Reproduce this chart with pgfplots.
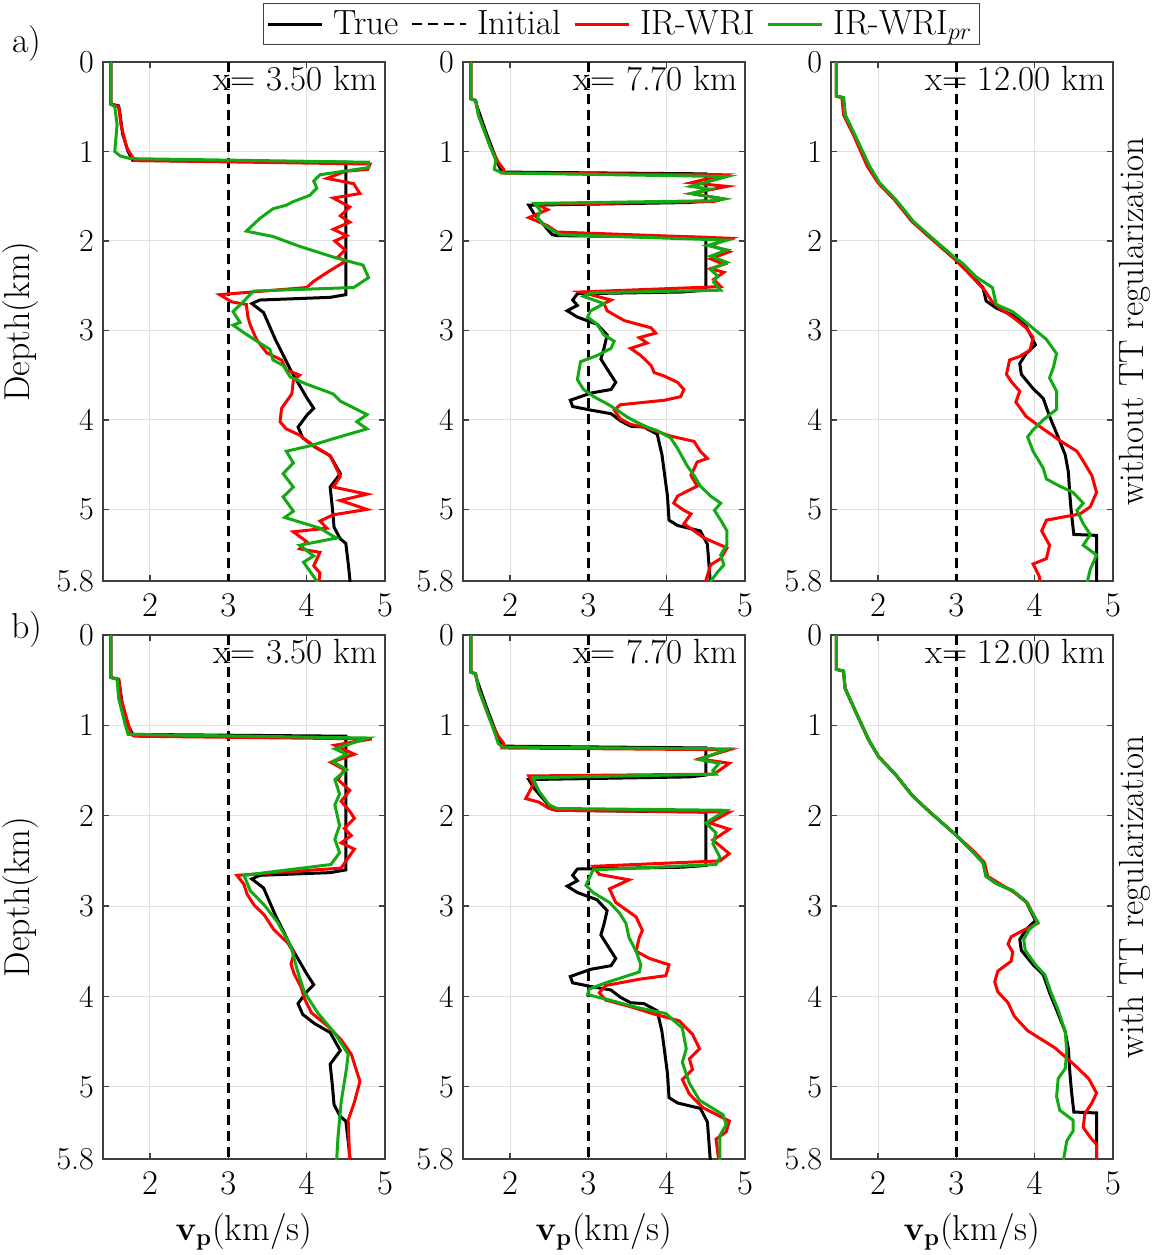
\documentclass[border=0pt]{standalone}
\usepackage{pgfplots}
\pgfplotsset{compat=1.18}
\usepackage{pgfplotstable}

\definecolor{wrired}{RGB}{255,0,0}
\definecolor{wrigreen}{RGB}{18,170,18}
\newcommand\tickfont{\fontsize{16}{19}\selectfont}
\newcommand\txtfont{\fontsize{17.5}{20.5}\selectfont}
\newcommand\labfont{\fontsize{18}{21}\selectfont}

% ---------- true velocity profiles ----------
\pgfplotstableread{
v d
1.5 0
1.5 0.47
1.6 0.49
1.62 0.6
1.65 0.8
1.72 1.0
1.78 1.1
4.5 1.12
4.5 2.6
4.3 2.63
3.4 2.66
3.3 2.7
3.45 2.8
3.6 3.1
3.8 3.45
4.0 3.75
4.09 3.87
4.0 3.95
3.89 4.08
3.95 4.2
4.1 4.3
4.3 4.4
4.43 4.6
4.3 4.75
4.33 5.0
4.35 5.2
4.43 5.33
4.5 5.38
4.53 5.6
4.56 5.85
}\trueA
\pgfplotstableread{
v d
1.5 0
1.5 0.41
1.56 0.43
1.58 0.5
1.7 0.8
1.84 1.12
1.88 1.2
1.9 1.23
4.5 1.25
4.5 1.55
4.3 1.57
2.24 1.60
2.31 1.70
2.43 1.82
2.54 1.93
2.6 1.94
4.5 1.96
4.5 2.55
4.2 2.57
2.86 2.59
2.80 2.66
2.86 2.72
2.73 2.78
2.86 2.85
3.11 2.93
3.24 3.05
3.20 3.20
3.16 3.32
3.24 3.43
3.35 3.58
3.29 3.66
3.03 3.70
2.77 3.78
2.80 3.85
3.03 3.89
3.29 3.93
3.41 4.01
3.54 4.07
3.71 4.08
3.88 4.16
3.94 4.39
4.01 4.85
4.03 5.12
4.14 5.18
4.43 5.24
4.52 5.39
4.56 5.85
}\trueB
\pgfplotstableread{
v d
1.47 0
1.47 0.38
1.56 0.40
1.58 0.59
1.71 0.84
1.88 1.16
2.01 1.35
2.22 1.54
2.44 1.78
2.65 1.95
2.99 2.21
3.21 2.40
3.34 2.52
3.38 2.67
3.51 2.75
3.72 2.83
3.89 2.95
4.01 3.16
3.89 3.26
3.81 3.37
3.83 3.49
3.98 3.65
4.11 3.76
4.19 3.96
4.28 4.15
4.39 4.39
4.43 4.58
4.45 4.85
4.47 5.05
4.50 5.28
4.79 5.29
4.79 5.85
}\trueC

% ---------- without TT regularization ----------
\pgfplotstableread{
v d
1.5 0
1.5 0.47
1.6 0.5
1.63 0.7
1.7 0.95
1.8 1.1
4.81 1.14
4.78 1.2
4.5 1.22
4.26 1.3
4.6 1.36
4.68 1.47
4.34 1.52
4.55 1.62
4.43 1.72
4.55 1.79
4.34 1.87
4.51 1.94
4.36 2.0
4.49 2.1
4.4 2.18
4.49 2.23
4.3 2.33
4.09 2.45
4.0 2.52
2.89 2.6
3.04 2.68
3.23 2.71
3.25 2.85
3.28 2.94
3.36 3.10
3.49 3.25
3.68 3.33
3.74 3.44
3.91 3.50
3.83 3.56
3.81 3.71
3.68 3.87
3.66 4.02
3.74 4.10
3.91 4.17
4.09 4.29
4.30 4.40
4.43 4.63
4.34 4.75
4.77 4.83
4.43 4.90
4.77 5.0
4.34 5.06
4.17 5.13
4.26 5.21
3.83 5.25
4.0 5.36
3.91 5.44
4.17 5.48
4.09 5.63
4.17 5.71
4.15 5.85
}\redAa
\pgfplotstableread{
v d
1.5 0
1.5 0.47
1.55 0.5
1.58 0.7
1.55 1.0
1.62 1.05
1.75 1.08
4.79 1.12
4.79 1.18
4.17 1.26
4.09 1.33
4.13 1.41
4.04 1.49
3.83 1.56
3.74 1.60
3.57 1.64
3.40 1.75
3.23 1.89
3.57 1.95
3.91 2.06
4.34 2.18
4.72 2.27
4.79 2.41
4.60 2.52
3.32 2.56
3.19 2.68
3.06 2.79
3.15 2.91
3.06 2.94
3.19 3.02
3.40 3.14
3.53 3.21
3.57 3.33
3.70 3.39
3.79 3.52
4.0 3.60
4.34 3.71
4.43 3.79
4.77 3.94
4.64 4.02
4.77 4.10
4.34 4.21
4.04 4.29
3.74 4.35
3.83 4.48
3.70 4.60
3.83 4.75
3.70 4.86
3.83 5.02
3.72 5.09
4.17 5.21
4.38 5.32
3.91 5.40
4.09 5.52
3.96 5.59
4.17 5.85
}\greenAa
\pgfplotstableread{
v d
1.5 0
1.5 0.41
1.56 0.43
1.6 0.6
1.75 0.95
1.85 1.12
1.92 1.2
1.9 1.24
4.73 1.26
4.31 1.35
4.77 1.39
4.31 1.47
4.73 1.53
4.6 1.56
2.35 1.59
2.48 1.65
2.24 1.74
2.35 1.78
2.48 1.83
2.60 1.90
4.82 1.97
4.56 2.05
4.80 2.12
4.56 2.20
4.73 2.26
4.56 2.31
4.73 2.35
4.6 2.43
4.69 2.51
2.90 2.57
3.29 2.66
3.20 2.70
3.24 2.78
3.46 2.89
3.80 2.97
3.86 3.03
3.65 3.08
3.75 3.14
3.54 3.20
3.67 3.28
3.80 3.39
3.84 3.47
3.97 3.51
4.14 3.58
4.22 3.66
4.18 3.74
3.97 3.78
3.41 3.83
3.33 3.89
3.41 3.99
3.54 4.05
3.71 4.08
4.05 4.18
4.35 4.24
4.43 4.35
4.52 4.43
4.39 4.47
4.31 4.62
4.39 4.74
4.14 4.85
4.09 4.93
4.22 5.01
4.31 5.05
4.22 5.16
4.35 5.24
4.48 5.32
4.77 5.43
4.69 5.55
4.56 5.62
4.52 5.74
4.48 5.85
}\redAb
\pgfplotstableread{
v d
1.5 0
1.5 0.41
1.56 0.43
1.6 0.6
1.75 0.95
1.82 1.1
1.80 1.2
1.9 1.24
4.77 1.28
4.31 1.39
4.55 1.42
4.31 1.47
4.73 1.53
4.6 1.55
2.31 1.58
2.39 1.66
2.35 1.74
2.43 1.82
2.56 1.89
2.65 1.93
4.77 1.99
4.52 2.05
4.77 2.10
4.56 2.17
4.77 2.24
4.56 2.32
4.65 2.39
4.60 2.46
4.69 2.55
3.03 2.58
2.94 2.62
3.20 2.70
3.03 2.78
2.99 2.85
3.11 2.93
3.20 3.05
3.33 3.12
3.29 3.20
3.11 3.28
2.90 3.35
2.86 3.55
2.94 3.66
3.07 3.74
3.24 3.82
3.37 3.89
3.50 3.97
3.63 4.03
3.75 4.08
3.88 4.12
4.05 4.20
4.14 4.32
4.26 4.51
4.35 4.62
4.43 4.74
4.56 4.85
4.69 4.93
4.61 5.01
4.69 5.12
4.77 5.24
4.77 5.39
4.69 5.51
4.73 5.62
4.65 5.70
4.52 5.85
}\greenAb
\pgfplotstableread{
v d
1.47 0
1.47 0.38
1.54 0.40
1.56 0.59
1.70 0.84
1.86 1.16
2.0 1.35
2.21 1.54
2.43 1.78
2.65 1.95
2.99 2.21
3.2 2.40
3.36 2.55
3.45 2.67
3.55 2.75
3.72 2.85
3.89 2.97
3.98 3.08
3.94 3.22
3.81 3.29
3.68 3.33
3.64 3.49
3.70 3.57
3.81 3.68
3.76 3.80
3.89 3.96
4.06 4.07
4.32 4.23
4.54 4.35
4.62 4.46
4.73 4.62
4.79 4.81
4.71 4.97
4.58 5.05
4.15 5.12
4.09 5.24
4.19 5.40
4.15 5.55
3.98 5.61
4.06 5.75
4.08 5.85
}\redAc
\pgfplotstableread{
v d
1.47 0
1.47 0.38
1.56 0.40
1.58 0.59
1.72 0.84
1.89 1.16
2.02 1.35
2.23 1.54
2.45 1.78
2.67 1.95
3.0 2.20
3.08 2.25
3.25 2.40
3.46 2.52
3.51 2.71
3.72 2.79
3.89 2.91
4.15 3.10
4.28 3.26
4.24 3.41
4.19 3.53
4.28 3.68
4.28 3.88
4.11 4.00
3.98 4.11
3.91 4.19
3.98 4.35
4.11 4.54
4.15 4.66
4.32 4.74
4.49 4.81
4.62 4.93
4.54 5.01
4.62 5.16
4.71 5.28
4.62 5.40
4.79 5.51
4.71 5.67
4.66 5.85
}\greenAc

% ---------- with TT regularization ----------
\pgfplotstableread{
v d
1.5 0
1.5 0.47
1.6 0.49
1.63 0.7
1.72 0.98
1.76 1.1
1.8 1.12
4.83 1.15
4.36 1.22
4.61 1.32
4.31 1.41
4.48 1.49
4.40 1.60
4.55 1.72
4.44 1.84
4.55 1.95
4.61 2.03
4.48 2.14
4.57 2.22
4.44 2.30
4.61 2.37
4.51 2.49
4.44 2.58
3.11 2.66
3.20 2.76
3.24 2.87
3.33 2.99
3.46 3.10
3.58 3.26
3.76 3.41
3.84 3.52
3.80 3.64
3.84 3.75
3.93 3.90
3.97 4.02
4.06 4.18
4.27 4.33
4.44 4.48
4.57 4.64
4.68 4.94
4.61 5.17
4.53 5.37
4.55 5.85
}\redBa
\pgfplotstableread{
v d
1.5 0
1.5 0.47
1.58 0.49
1.6 0.7
1.68 0.98
1.72 1.1
4.78 1.14
4.36 1.26
4.51 1.32
4.33 1.40
4.51 1.49
4.36 1.60
4.42 1.76
4.36 1.88
4.42 2.11
4.36 2.26
4.42 2.41
4.31 2.54
3.20 2.66
3.28 2.83
3.46 2.99
3.63 3.18
3.80 3.45
3.88 3.71
3.97 3.95
4.14 4.18
4.36 4.41
4.53 4.64
4.51 4.79
4.44 5.17
4.40 5.56
4.38 5.85
}\greenBa
\pgfplotstableread{
v d
1.5 0
1.5 0.41
1.56 0.43
1.6 0.6
1.75 0.95
1.85 1.12
1.92 1.2
1.9 1.25
4.80 1.27
4.42 1.37
4.80 1.42
4.67 1.50
4.6 1.54
2.24 1.56
2.30 1.65
2.20 1.81
2.37 1.85
2.50 1.92
2.6 1.94
4.80 1.96
4.55 2.08
4.80 2.15
4.59 2.27
4.80 2.42
4.68 2.50
3.06 2.56
3.14 2.65
3.52 2.71
3.27 2.81
3.35 2.96
3.48 3.04
3.61 3.12
3.69 3.27
3.65 3.35
3.61 3.50
3.78 3.58
4.03 3.65
3.99 3.77
3.65 3.81
3.22 3.88
3.14 3.96
3.22 4.04
3.56 4.12
3.82 4.19
4.16 4.27
4.33 4.42
4.42 4.58
4.29 4.69
4.33 4.81
4.20 4.92
4.29 5.08
4.46 5.23
4.80 5.38
4.76 5.50
4.63 5.58
4.67 5.85
}\redBb
\pgfplotstableread{
v d
1.5 0
1.5 0.41
1.56 0.43
1.6 0.6
1.75 0.95
1.82 1.12
1.85 1.2
1.9 1.24
4.78 1.26
4.42 1.38
4.67 1.42
4.59 1.50
4.63 1.54
2.29 1.58
2.37 1.73
2.50 1.88
2.6 1.92
4.76 1.94
4.50 2.08
4.63 2.19
4.59 2.31
4.68 2.46
4.63 2.54
3.06 2.60
2.97 2.77
3.06 2.85
3.27 2.96
3.40 3.08
3.48 3.19
3.52 3.35
3.61 3.50
3.67 3.65
3.65 3.73
3.22 3.85
3.01 3.92
2.99 3.98
3.27 4.04
3.61 4.12
3.99 4.19
4.20 4.35
4.25 4.58
4.20 4.73
4.29 4.96
4.42 5.15
4.72 5.31
4.76 5.42
4.68 5.54
4.68 5.85
}\greenBb
\pgfplotstableread{
v d
1.47 0
1.47 0.38
1.56 0.40
1.58 0.59
1.71 0.84
1.88 1.16
2.01 1.35
2.22 1.54
2.44 1.78
2.65 1.95
2.99 2.21
3.23 2.40
3.36 2.52
3.40 2.67
3.53 2.74
3.74 2.85
3.91 2.97
4.04 3.19
3.83 3.28
3.70 3.34
3.66 3.42
3.72 3.51
3.70 3.61
3.53 3.72
3.49 3.84
3.53 3.95
3.66 4.07
3.74 4.22
3.91 4.38
4.04 4.45
4.26 4.57
4.51 4.76
4.69 4.91
4.79 5.07
4.73 5.18
4.64 5.30
4.62 5.45
4.71 5.56
4.79 5.64
4.79 5.85
}\redBc
\pgfplotstableread{
v d
1.47 0
1.47 0.38
1.56 0.40
1.58 0.59
1.71 0.84
1.88 1.16
2.01 1.35
2.22 1.54
2.44 1.78
2.65 1.95
2.99 2.21
3.21 2.40
3.34 2.52
3.38 2.67
3.51 2.75
3.72 2.83
3.89 2.95
4.04 3.18
3.93 3.26
3.86 3.37
3.88 3.49
4.01 3.65
4.13 3.76
4.21 3.96
4.30 4.15
4.39 4.39
4.41 4.61
4.39 4.80
4.30 4.91
4.28 5.11
4.32 5.26
4.49 5.37
4.49 5.49
4.41 5.60
4.36 5.85
}\greenBc

\pgfplotsset{
  panel/.style={
    scale only axis, width=141pt, anchor=north west,
    xmin=1.4, xmax=5, ymin=0, ymax=5.8, y dir=reverse,
    xtick={2,3,4,5}, ytick={0,1,2,3,4,5,5.8},
    yticklabels={0,1,2,3,4,5,5.8},
    grid=major, major grid style={draw=black!12, line width=0.5pt},
    tick align=inside, xtick pos=both, ytick pos=both,
    xticklabel pos=bottom, yticklabel pos=left,
    major tick length=3pt,
    axis line style={draw=black!75, line width=0.6pt},
    every tick/.style={draw=black!75, line width=0.6pt},
    tick label style={font=\tickfont},
    xticklabel style={yshift=-3pt},
    yticklabel style={xshift=-1pt},
    clip mode=individual,
    every axis y label/.style={at={(axis description cs:-0.294,0.5)}, rotate=90, anchor=center, font=\labfont},
    every axis x label/.style={at={(axis description cs:0.5,-0.139)}, anchor=center, font=\labfont},
  },
  truev/.style={black, line width=1.5pt},
  initv/.style={black, line width=1.2pt, dash pattern=on 5pt off 3pt},
  wriv/.style={wrired, line width=1.5pt},
  prv/.style={wrigreen, line width=1.5pt},
}

\begin{document}
\begin{tikzpicture}
\path[use as bounding box] (0pt,0pt) rectangle (576.5pt,-627.5pt);

% ----- row a) -----
\begin{axis}[panel, at={(51.5pt,-31pt)}, height=259.5pt, ylabel={Depth(km)},
  legend columns=4,
  legend style={at={(axis description cs:0.567,1.114)}, anchor=north west,
    draw=black!75, line width=0.6pt, font=\txtfont, inner sep=1.5pt,
    /tikz/every odd column/.append style={column sep=3pt},
    /tikz/every even column/.append style={column sep=4pt}},
  legend image code/.code={\draw[#1] (0pt,0pt) -- (27pt,0pt);},
  legend cell align=left]
\addplot[truev] table[x=v,y=d] {\trueA};
\addlegendentry{True}
\addplot[initv] coordinates {(3,0) (3,5.8)};
\addlegendentry{Initial}
\addplot[wriv] table[x=v,y=d] {\redAa};
\addlegendentry{IR-WRI}
\addplot[prv] table[x=v,y=d] {\greenAa};
\addlegendentry{IR-WRI$_{pr}$}
\node[anchor=base east, font=\txtfont, inner sep=0pt] at (axis description cs:0.975,0.946) {x= 3.50 km};
\end{axis}

\begin{axis}[panel, at={(231.5pt,-31pt)}, height=259.5pt]
\addplot[truev] table[x=v,y=d] {\trueB};
\addplot[initv] coordinates {(3,0) (3,5.8)};
\addplot[wriv] table[x=v,y=d] {\redAb};
\addplot[prv] table[x=v,y=d] {\greenAb};
\node[anchor=base east, font=\txtfont, inner sep=0pt] at (axis description cs:0.975,0.946) {x= 7.70 km};
\end{axis}

\begin{axis}[panel, at={(415.5pt,-31pt)}, height=259.5pt]
\addplot[truev] table[x=v,y=d] {\trueC};
\addplot[initv] coordinates {(3,0) (3,5.8)};
\addplot[wriv] table[x=v,y=d] {\redAc};
\addplot[prv] table[x=v,y=d] {\greenAc};
\node[anchor=base east, font=\txtfont, inner sep=0pt] at (axis description cs:0.975,0.946) {x= 12.00 km};
\node[rotate=90, font=\txtfont, anchor=center] at (axis description cs:1.078,0.5) {without TT regularization};
\end{axis}

% ----- row b) -----
\begin{axis}[panel, at={(51.5pt,-317.5pt)}, height=262pt, ylabel={Depth(km)},
  xlabel={$\mathbf{v}_{\mathbf{p}}$(km/s)}]
\addplot[truev] table[x=v,y=d] {\trueA};
\addplot[initv] coordinates {(3,0) (3,5.8)};
\addplot[wriv] table[x=v,y=d] {\redBa};
\addplot[prv] table[x=v,y=d] {\greenBa};
\node[anchor=base east, font=\txtfont, inner sep=0pt] at (axis description cs:0.975,0.946) {x= 3.50 km};
\end{axis}

\begin{axis}[panel, at={(231.5pt,-317.5pt)}, height=262pt,
  xlabel={$\mathbf{v}_{\mathbf{p}}$(km/s)}]
\addplot[truev] table[x=v,y=d] {\trueB};
\addplot[initv] coordinates {(3,0) (3,5.8)};
\addplot[wriv] table[x=v,y=d] {\redBb};
\addplot[prv] table[x=v,y=d] {\greenBb};
\node[anchor=base east, font=\txtfont, inner sep=0pt] at (axis description cs:0.975,0.946) {x= 7.70 km};
\end{axis}

\begin{axis}[panel, at={(415.5pt,-317.5pt)}, height=262pt,
  xlabel={$\mathbf{v}_{\mathbf{p}}$(km/s)}]
\addplot[truev] table[x=v,y=d] {\trueC};
\addplot[initv] coordinates {(3,0) (3,5.8)};
\addplot[wriv] table[x=v,y=d] {\redBc};
\addplot[prv] table[x=v,y=d] {\greenBc};
\node[anchor=base east, font=\txtfont, inner sep=0pt] at (axis description cs:0.975,0.946) {x= 12.00 km};
\node[rotate=90, font=\txtfont, anchor=center] at (axis description cs:1.078,0.5) {with TT regularization};
\end{axis}

\node[font=\labfont] at (13.5pt,-22pt) {a)};
\node[font=\labfont] at (13.5pt,-315pt) {b)};
\end{tikzpicture}
\end{document}
